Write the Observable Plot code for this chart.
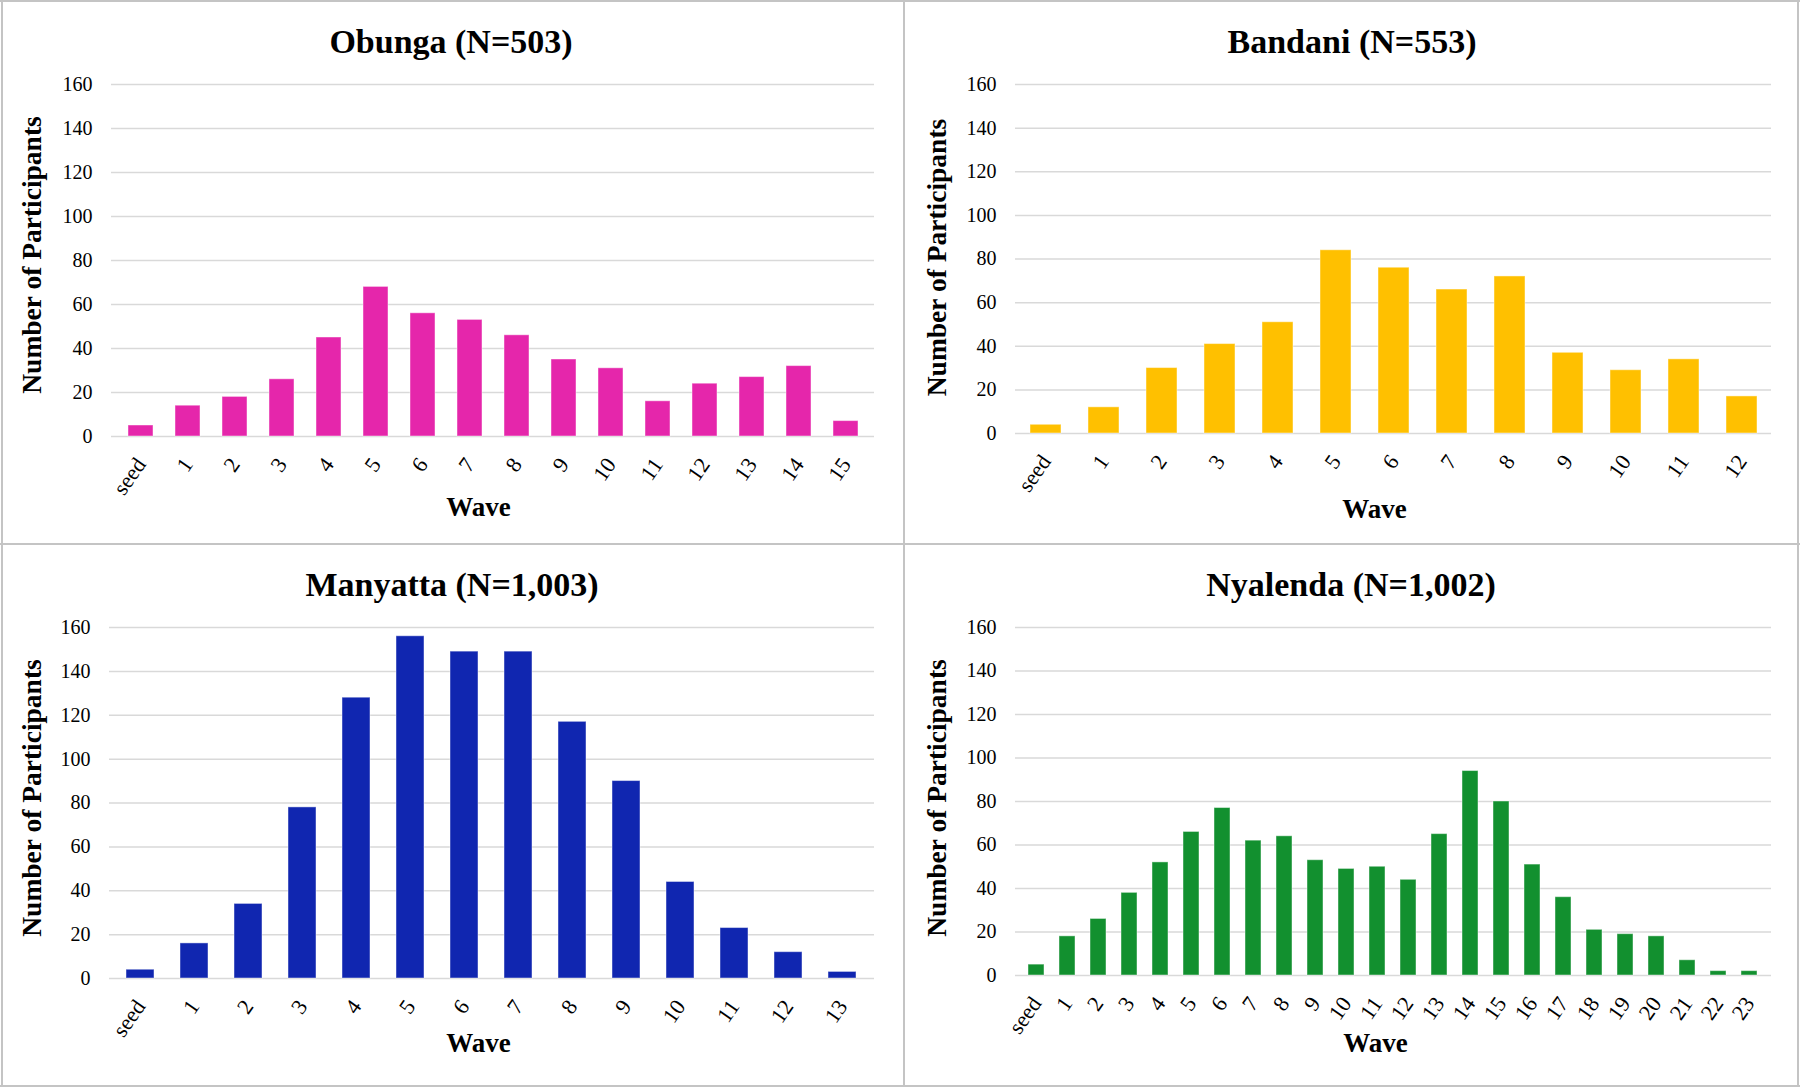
<!DOCTYPE html>
<html><head><meta charset="utf-8">
<script src="https://cdn.jsdelivr.net/npm/d3@7"></script>
<script src="https://cdn.jsdelivr.net/npm/@observablehq/plot@0.6"></script>
<style>
body{margin:0;background:#fff;}
#root{position:relative;width:1800px;height:1087px;overflow:hidden;font-family:"Liberation Serif","Times New Roman",serif;background:#fff;}
.panel{position:absolute;}
.panel svg{position:absolute;left:0;}
.title{position:absolute;font-weight:bold;font-size:34px;color:#000;white-space:nowrap;transform:translate(-50%,-50%);line-height:1;}
.line{position:absolute;background:#c4c4c4;}
</style></head><body><div id="root"></div>
<script>
// ---- data ----
const obungaWaves = ["seed","1","2","3","4","5","6","7","8","9","10","11","12","13","14","15"];
const obungaCounts = [5,14,18,26,45,68,56,53,46,35,31,16,24,27,32,7];

const bandaniWaves = ["seed","1","2","3","4","5","6","7","8","9","10","11","12"];
const bandaniCounts = [4,12,30,41,51,84,76,66,72,37,29,34,17];

const manyattaWaves = ["seed","1","2","3","4","5","6","7","8","9","10","11","12","13"];
const manyattaCounts = [4,16,34,78,128,156,149,149,117,90,44,23,12,3];

const nyalendaWaves = ["seed","1","2","3","4","5","6","7","8","9","10","11","12","13","14","15","16","17","18","19","20","21","22","23"];
const nyalendaCounts = [5,18,26,38,52,66,77,62,64,53,49,50,44,65,94,80,51,36,21,19,18,7,2,2];

const titles = ["Obunga (N=503)","Bandani (N=553)","Manyatta (N=1,003)","Nyalenda (N=1,002)"];
const yTicks = [0,20,40,60,80,100,120,140,160];
const yLabel = "Number of Participants";
const xLabel = "Wave";

// ---- layout / style ----
const colors = ["#e526ab","#ffc000","#1026b0","#12902f"];
const layouts = [
  {px:0,   py:0,   w:904, h:544, plotL:111, plotR:874, y160:84, y0:436, titleX:451, titleY:41.5, waveX:478, waveY:507, yTitleX:32, yTitleY:254.5},
  {px:904, py:0,   w:896, h:544, plotL:111, plotR:867, y160:84, y0:433, titleX:448, titleY:41.5, waveX:470, waveY:509, yTitleX:33, yTitleY:257},
  {px:0,   py:544, w:904, h:543, plotL:109, plotR:874, y160:83, y0:434, titleX:452, titleY:40.5, waveX:478, waveY:499, yTitleX:32, yTitleY:253.5},
  {px:904, py:544, w:896, h:543, plotL:111, plotR:867, y160:83, y0:431, titleX:447, titleY:40.5, waveX:471, waveY:499, yTitleX:33, yTitleY:253.5}
];
const series = [
  [obungaWaves, obungaCounts],
  [bandaniWaves, bandaniCounts],
  [manyattaWaves, manyattaCounts],
  [nyalendaWaves, nyalendaCounts]
];
const FONT = "Liberation Serif, Times New Roman, serif";
const root = document.getElementById("root");

series.forEach(([waves, counts], k) => {
  const L = layouts[k];
  const T = 68;
  const H = L.h - T;
  const data = waves.map((w, i) => ({wave: w, n: counts[i]}));
  const div = document.createElement("div");
  div.className = "panel";
  Object.assign(div.style, {left: L.px + "px", top: L.py + "px", width: L.w + "px", height: L.h + "px"});
  const t = document.createElement("div");
  t.className = "title";
  t.textContent = titles[k];
  t.style.left = L.titleX + "px";
  t.style.top = L.titleY + "px";
  div.appendChild(t);

  const chart = Plot.plot({
    width: L.w,
    height: H,
    marginLeft: L.plotL,
    marginRight: L.w - L.plotR,
    marginTop: L.y160 - T,
    marginBottom: L.h - L.y0,
    style: {fontFamily: FONT, fontSize: "20px", color: "#000", background: "transparent", overflow: "visible"},
    x: {domain: waves, paddingInner: 0.474, paddingOuter: 0.237, align: 0.5},
    y: {domain: [0, 160]},
    marks: [
      Plot.ruleY(yTicks, {stroke: "#d9d9d9", strokeWidth: 1.5}),
      Plot.barY(data, {x: "wave", y: "n", fill: colors[k], stroke: "#ffffff", strokeOpacity: 0.45, strokeWidth: 1}),
      Plot.axisY({ticks: yTicks, label: null, tickSize: 0, tickPadding: 19, fontSize: 20}),
      Plot.axisX({label: null, tickSize: 0, tickRotate: -55, tickPadding: 24, fontSize: 22}),
      Plot.text([yLabel], {text: d => d, frameAnchor: "left", textAnchor: "middle", lineAnchor: "middle", dx: L.yTitleX - L.plotL, dy: L.yTitleY - (L.y160 + L.y0) / 2, rotate: -90, fontSize: 27.5, fontWeight: "bold", fontFamily: FONT, fill: "#000"}),
      Plot.text([xLabel], {text: d => d, frameAnchor: "bottom", textAnchor: "middle", lineAnchor: "middle", dx: L.waveX - (L.plotL + L.plotR) / 2, dy: L.waveY - L.y0, fontSize: 27, fontWeight: "bold", fontFamily: FONT, fill: "#000"})
    ]
  });
  chart.style.top = T + "px";
  div.appendChild(chart);
  root.appendChild(div);
});

// frame lines
const lines = [
  {l:0, t:0, w:1800, h:2},
  {l:0, t:1085, w:1800, h:2},
  {l:1, t:0, w:2, h:1087},
  {l:1797, t:0, w:2, h:1087},
  {l:903, t:0, w:2, h:1087},
  {l:0, t:543, w:1800, h:2}
];
lines.forEach(s => {
  const d = document.createElement("div");
  d.className = "line";
  Object.assign(d.style, {left: s.l + "px", top: s.t + "px", width: s.w + "px", height: s.h + "px"});
  root.appendChild(d);
});
</script></body></html>
